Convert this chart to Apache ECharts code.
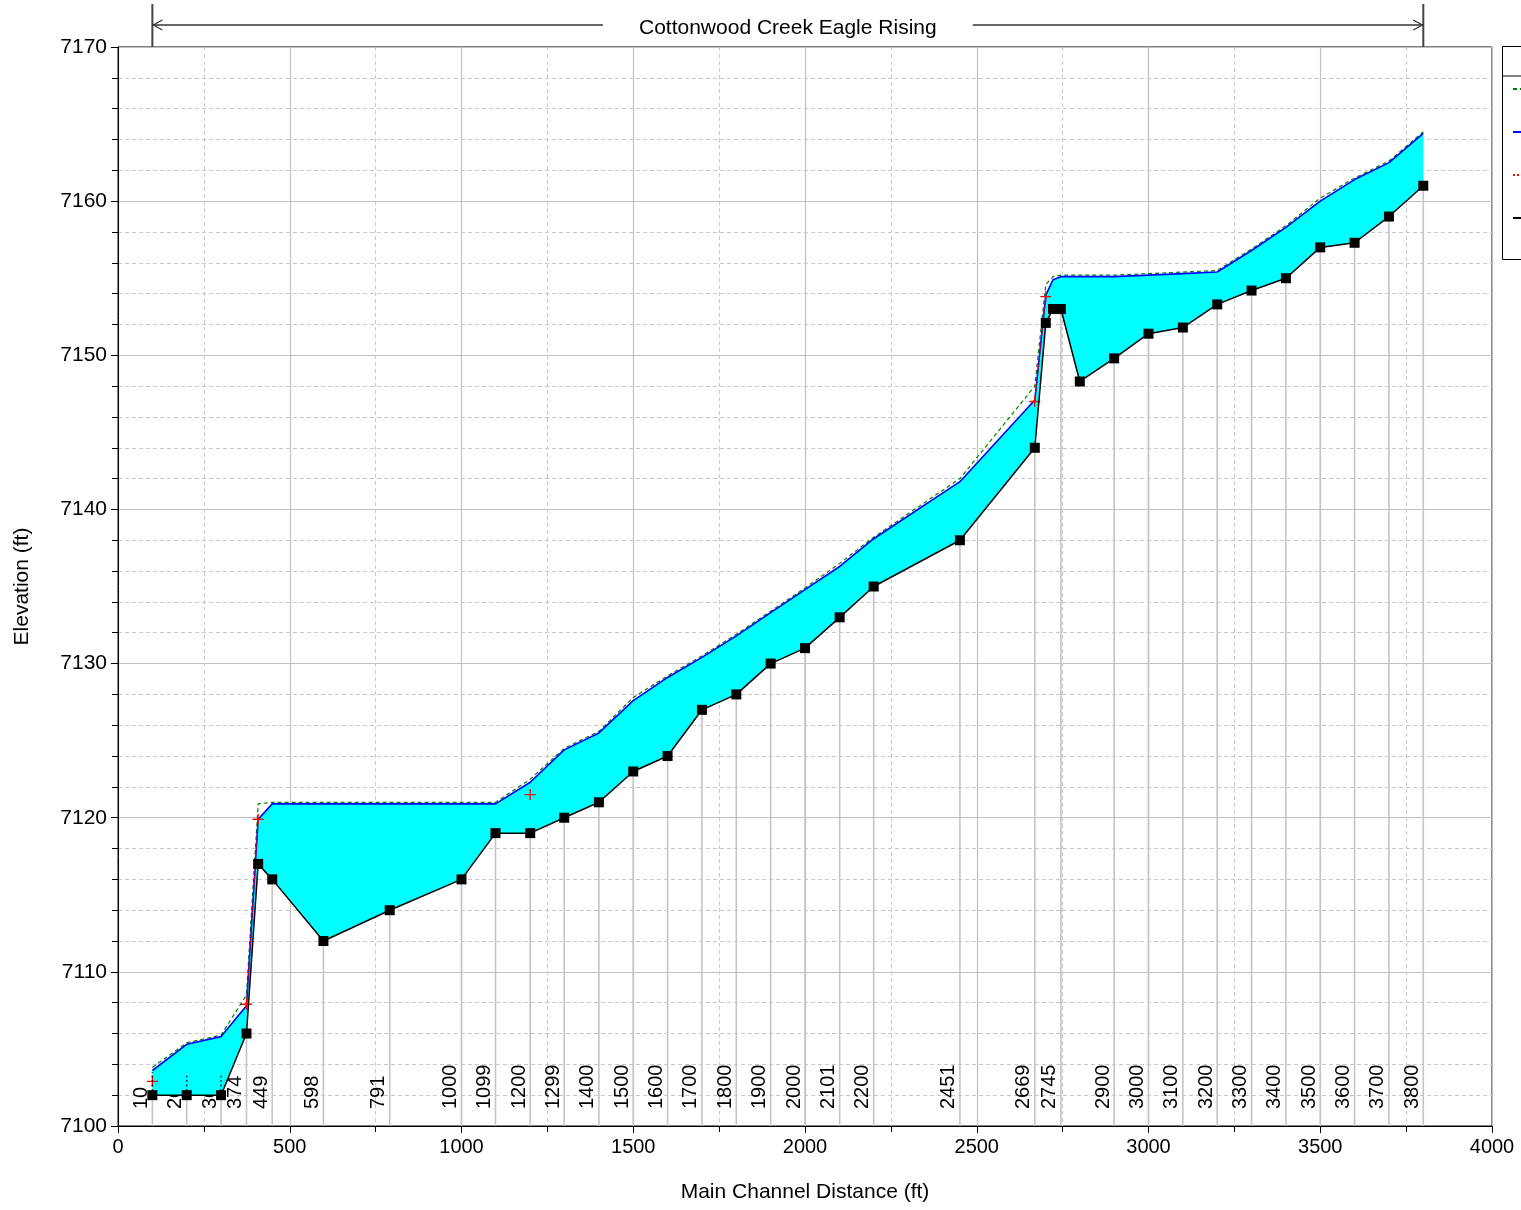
<!DOCTYPE html>
<html>
<head>
<meta charset="utf-8">
<title>Cottonwood Creek Eagle Rising - Profile</title>
<script src="https://cdn.jsdelivr.net/npm/echarts@6/dist/echarts.min.js"></script>
<style>
  html, body { margin: 0; padding: 0; background: #fff; }
  #chart { width: 1521px; height: 1210px; }
</style>
</head>
<body>
<div id="chart"></div>
<script>
// Reach profile: main channel distance (ft) of each cross section
const stationDist = [100, 200, 300, 374, 408, 449, 598, 791, 1000, 1099, 1200, 1299, 1400, 1500,
  1600, 1700, 1800, 1900, 2000, 2101, 2200, 2451, 2669, 2701, 2722, 2745, 2800, 2900, 3000,
  3100, 3200, 3300, 3400, 3500, 3600, 3700, 3800];

// Channel invert elevation (ft)
const groundElev = [7102.0, 7102.0, 7102.0, 7106.0, 7117.0, 7116.0, 7112.0, 7114.0, 7116.0, 7119.0,
  7119.0, 7120.0, 7121.0, 7123.0, 7124.0, 7127.0, 7128.0, 7130.0, 7131.0, 7133.0, 7135.0, 7138.0,
  7144.0, 7152.1, 7153.0, 7153.0, 7148.3, 7149.8, 7151.4, 7151.8, 7153.3, 7154.2, 7155.0, 7157.0,
  7157.3, 7159.0, 7161.0];

// Water surface elevation (ft)
const wsElev = [7103.6, 7105.3, 7105.8, 7107.8, 7119.9, 7120.9, 7120.9, 7120.9, 7120.9, 7120.9,
  7122.3, 7124.4, 7125.5, 7127.6, 7129.1, 7130.4, 7131.8, 7133.3, 7134.8, 7136.3, 7138.1, 7141.8,
  7147.1, 7153.9, 7154.9, 7155.1, 7155.1, 7155.1, 7155.2, 7155.3, 7155.4, 7156.8, 7158.3, 7160.0,
  7161.4, 7162.5, 7164.4];

// Energy grade line elevation (ft)
const egElev = [7103.8, 7105.4, 7105.9, 7108.5, 7120.9, 7121.0, 7121.0, 7121.0, 7121.0, 7121.0,
  7122.5, 7124.5, 7125.6, 7127.8, 7129.2, 7130.5, 7131.9, 7133.4, 7134.9, 7136.5, 7138.2, 7142.0,
  7148.0, 7154.6, 7155.1, 7155.2, 7155.2, 7155.2, 7155.3, 7155.4, 7155.5, 7156.9, 7158.4, 7160.2,
  7161.5, 7162.6, 7164.5];

// Critical depth water surface (ft); null where not computed
const critElev = [7102.9, null, null, 7107.9, 7119.9, null, null, null, null, null,
  7121.5, null, null, null, null, null, null, null, null, null, null, null,
  7147.0, 7153.8, null, null, null, null, null, null, null, null, null, null,
  null, null, null];

// Labelled cross sections (distance, river station name)
const labelDist = [100, 200, 300, 374, 449, 598, 791, 1000, 1099, 1200, 1299, 1400, 1500, 1600,
  1700, 1800, 1900, 2000, 2101, 2200, 2451, 2669, 2745, 2900, 3000, 3100, 3200, 3300, 3400,
  3500, 3600, 3700, 3800];
const labelText = ['10', '20', '30', '374', '449', '598', '791', '1000', '1099', '1200', '1299',
  '1400', '1500', '1600', '1700', '1800', '1900', '2000', '2101', '2200', '2451', '2669', '2745',
  '2900', '3000', '3100', '3200', '3300', '3400', '3500', '3600', '3700', '3800'];

// Short dotted markers above the downstream sections
const markDist = [100, 200, 300];
const markTop = [7103.5, 7103.3, 7103.3];

// Reach extent shown above the plot
const reachName = 'Cottonwood Creek Eagle Rising';
const reachStart = 100;
const reachEnd = 3800;

const FONT = '"Liberation Sans", Arial, sans-serif';

const pairs = arr => stationDist.map((d, i) => [d, arr[i]]);
const groundAt = d => groundElev[stationDist.indexOf(d)];
const plain = v => String(v);

const chart = echarts.init(document.getElementById('chart'), null, { renderer: 'canvas' });

const option = {
  animation: false,
  backgroundColor: '#fff',
  textStyle: { fontFamily: FONT },
  grid: {
    left: 118, right: 29, top: 47, bottom: 84,
    show: true, borderColor: '#000', borderWidth: 1, backgroundColor: 'transparent'
  },
  legend: {
    orient: 'vertical',
    left: 1512, top: 82,
    itemWidth: 44, itemHeight: 14, itemGap: 29,
    padding: 0,
    textStyle: { fontSize: 14, color: '#000', fontFamily: FONT },
    data: ['EG PF 1', 'WS PF 1', 'Crit PF 1', 'Ground']
  },
  graphic: [
    {
      type: 'rect', left: 1502, top: 46, z: 0,
      shape: { width: 60, height: 213 },
      style: { fill: '#fff', stroke: '#000', lineWidth: 1 }
    },
    {
      type: 'line', z: 1,
      shape: { x1: 1502, y1: 76, x2: 1521, y2: 76 },
      style: { stroke: '#000', lineWidth: 1 }
    }
  ],
  xAxis: {
    type: 'value', min: 0, max: 4000, interval: 500,
    name: 'Main Channel Distance (ft)', nameLocation: 'middle', nameGap: 56,
    nameTextStyle: { fontSize: 21, color: '#000', fontFamily: FONT },
    axisLine: { lineStyle: { color: '#000', width: 1 } },
    axisTick: { length: 7, lineStyle: { color: '#000' } },
    minorTick: { show: true, splitNumber: 2, length: 6, lineStyle: { color: '#000' } },
    axisLabel: { fontSize: 20, color: '#000', margin: 11, fontFamily: FONT, formatter: plain },
    splitLine: { show: true, lineStyle: { color: '#c0c0c0', width: 1.2 } },
    minorSplitLine: { show: true, lineStyle: { color: '#c8c8c8', type: [4, 3], width: 1 } }
  },
  yAxis: {
    type: 'value', min: 7100, max: 7170, interval: 10,
    name: 'Elevation (ft)', nameLocation: 'middle', nameGap: 85,
    nameTextStyle: { fontSize: 21, color: '#000', fontFamily: FONT },
    axisLine: { show: true, lineStyle: { color: '#000', width: 1 } },
    axisTick: { show: true, length: 7, lineStyle: { color: '#000' } },
    minorTick: { show: true, splitNumber: 5, length: 6, lineStyle: { color: '#000' } },
    axisLabel: { fontSize: 21, color: '#000', margin: 11, fontFamily: FONT, formatter: plain },
    splitLine: { show: true, lineStyle: { color: '#c0c0c0', width: 1.2 } },
    minorSplitLine: { show: true, lineStyle: { color: '#c8c8c8', type: [4, 3], width: 1 } }
  },
  series: [
    // Cross-section lines and river station labels
    {
      type: 'custom', name: 'sections', silent: true, clip: false, z: 1,
      data: labelDist.map((d, i) => [d, groundAt(d), labelText[i]]),
      renderItem: function (params, api) {
        const d = api.value(0);
        const top = api.coord([d, api.value(1)]);
        const bot = api.coord([d, 7100]);
        return {
          type: 'group',
          children: [
            {
              type: 'line',
              shape: { x1: bot[0], y1: bot[1], x2: top[0], y2: top[1] },
              style: { stroke: '#c4c4c4', lineWidth: 1.6 }
            },
            {
              type: 'text',
              x: bot[0] - 1, y: bot[1] - 17,
              rotation: Math.PI / 2,
              style: {
                text: labelText[params.dataIndex],
                align: 'left', verticalAlign: 'bottom',
                fontSize: 20, fontFamily: FONT, fill: '#000'
              },
              z2: 5
            }
          ]
        };
      }
    },
    // Flow area between channel bed and water surface
    {
      type: 'custom', name: 'flow', silent: true, z: 2,
      data: [[stationDist[0], groundElev[0]]],
      renderItem: function (params, api) {
        const pts = stationDist.map((d, i) => api.coord([d, wsElev[i]]));
        for (let i = stationDist.length - 1; i >= 0; i--) {
          pts.push(api.coord([stationDist[i], groundElev[i]]));
        }
        return { type: 'polygon', shape: { points: pts }, style: { fill: '#00ffff' } };
      }
    },
    // Dotted markers at the first three sections
    {
      type: 'custom', name: 'marks', silent: true, z: 6,
      data: markDist.map((d, i) => [d, groundAt(d), markTop[i]]),
      renderItem: function (params, api) {
        const a = api.coord([api.value(0), api.value(1)]);
        const b = api.coord([api.value(0), api.value(2)]);
        return {
          type: 'line',
          shape: { x1: a[0], y1: a[1], x2: b[0], y2: b[1] },
          style: { stroke: '#000', lineWidth: 1.5, lineDash: [1.5, 3] }
        };
      }
    },
    {
      type: 'line', name: 'EG PF 1', z: 3,
      data: pairs(egElev),
      showSymbol: false, symbol: 'none',
      itemStyle: { color: '#008000' },
      lineStyle: { color: '#008000', width: 1.2, type: [4, 3] }
    },
    {
      type: 'line', name: 'WS PF 1', z: 4,
      data: pairs(wsElev),
      showSymbol: false, symbol: 'none',
      itemStyle: { color: '#0000ff' },
      lineStyle: { color: '#0000ff', width: 1.6 }
    },
    {
      type: 'line', name: 'Crit PF 1', z: 5,
      data: pairs(critElev),
      connectNulls: false,
      symbol: 'path://M4.4,0H5.6V10H4.4Z M0,4.4H10V5.6H0Z',
      symbolSize: 11, showSymbol: true,
      itemStyle: { color: '#ff0000' },
      lineStyle: { color: '#ff0000', width: 1.2, type: 'dotted' }
    },
    {
      type: 'line', name: 'Ground', z: 7,
      data: pairs(groundElev),
      symbol: 'rect', symbolSize: 10, showSymbol: true,
      itemStyle: { color: '#000' },
      lineStyle: { color: '#000', width: 1.5 }
    },
    // Reach extent annotation above the plot
    {
      type: 'custom', name: 'reach', silent: true, clip: false, z: 8,
      data: [[reachStart, 7170, reachEnd]],
      renderItem: function (params, api) {
        const a = api.coord([api.value(0), api.value(1)]);
        const b = api.coord([api.value(2), api.value(1)]);
        const yTop = a[1] - 43;
        const yMid = a[1] - 22;
        const cx = (a[0] + b[0]) / 2;
        const gap = 185;
        const stroke = { stroke: '#333', lineWidth: 1.3, fill: null };
        return {
          type: 'group',
          children: [
            { type: 'line', shape: { x1: a[0], y1: yTop, x2: a[0], y2: a[1] }, style: { stroke: '#444', lineWidth: 2 } },
            { type: 'line', shape: { x1: b[0], y1: yTop, x2: b[0], y2: a[1] }, style: { stroke: '#444', lineWidth: 2 } },
            { type: 'line', shape: { x1: a[0], y1: yMid, x2: cx - gap, y2: yMid }, style: stroke },
            { type: 'line', shape: { x1: cx + gap, y1: yMid, x2: b[0], y2: yMid }, style: stroke },
            { type: 'polyline', shape: { points: [[a[0] + 10, yMid - 5], [a[0] + 1, yMid], [a[0] + 10, yMid + 5]] }, style: stroke },
            { type: 'polyline', shape: { points: [[b[0] - 10, yMid - 5], [b[0] - 1, yMid], [b[0] - 10, yMid + 5]] }, style: stroke },
            {
              type: 'text', x: cx, y: yMid + 3,
              style: {
                text: reachName, align: 'center', verticalAlign: 'middle',
                fontSize: 21, fontFamily: FONT, fill: '#000'
              }
            }
          ]
        };
      }
    }
  ]
};

chart.setOption(option);
</script>
</body>
</html>
